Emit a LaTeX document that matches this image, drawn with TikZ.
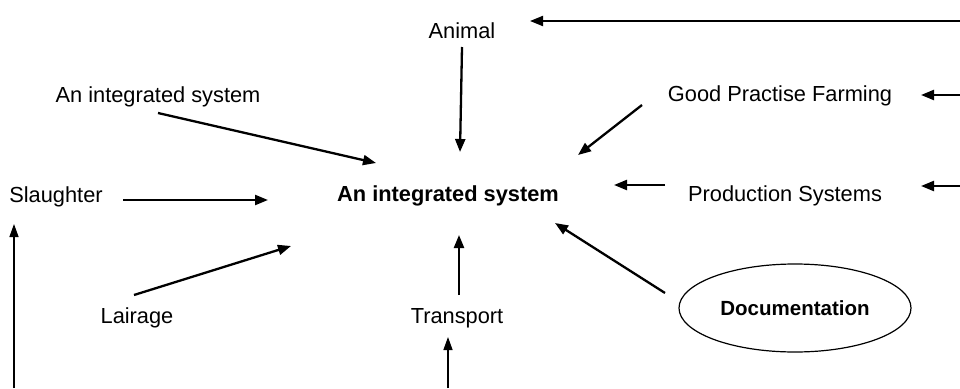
\documentclass[tikz,border=0pt]{standalone}
\usepackage{fontspec}
\setmainfont{Liberation Sans}
\usetikzlibrary{arrows.meta,shapes.geometric}
\begin{document}
\begin{tikzpicture}[x=1pt,y=-1pt,
  lbl/.style={font=\fontsize{21.8}{26}\selectfont, inner sep=0pt, anchor=center},
  bold/.style={lbl, font=\fontsize{21.8}{26}\selectfont\bfseries},
  arr/.style={line width=2.3pt, -{Triangle[length=13pt,width=10pt]}},
  thin/.style={line width=1.4pt, -{Triangle[length=13pt,width=9pt]}}]
\useasboundingbox (0,0) rectangle (960,388);
% nodes
\node[lbl] (animal) at (462,31) {Animal};
\node[lbl] (integ) at (158,97) {An integrated system};
\node[lbl] (gpf) at (780,96) {Good Practise Farming};
\node[lbl] (slaughter) at (56,197) {Slaughter};
\node[bold] (center) at (448,196) {An integrated system};
\node[lbl] (prod) at (785,196) {Production Systems};
\node[lbl] (lairage) at (137,318) {Lairage};
\node[lbl] (transport) at (457,318) {Transport};
\node[draw, line width=1.2pt, ellipse, minimum width=232pt, minimum height=88pt,
      font=\fontsize{20.5}{24}\selectfont\bfseries] (doc) at (795,308) {Documentation};
% free ends
\coordinate (topR) at (960,21);
\coordinate (topL) at (530,21);
\coordinate (gpfR) at (960,95);
\coordinate (gpfT) at (921,95);
\coordinate (prodR) at (960,186);
\coordinate (prodT) at (921,186);
\coordinate (leftB) at (14,388);
\coordinate (leftT) at (14,224);
\coordinate (botB) at (448,388);
\coordinate (botT) at (448,337);
\coordinate (aS) at (462,47);  \coordinate (aE) at (460,152);
\coordinate (iS) at (158,113); \coordinate (iE) at (376,163);
\coordinate (gS) at (642,105); \coordinate (gE) at (578,155);
\coordinate (sS) at (123,200); \coordinate (sE) at (268,200);
\coordinate (pS) at (665,185); \coordinate (pE) at (614,185);
\coordinate (lS) at (134,295); \coordinate (lE) at (291,246);
\coordinate (tS) at (459,295); \coordinate (tE) at (459,235);
\coordinate (dS) at (665,293); \coordinate (dE) at (555,223);
% connectors
\draw[line width=2pt, -{Triangle[length=13pt,width=10pt]}] (topR) -- (topL);
\draw[arr] (gpfR) -- (gpfT);
\draw[arr] (prodR) -- (prodT);
\draw[thin] (leftB) -- (leftT);
\draw[thin] (botB) -- (botT);
\draw[arr] (aS) -- (aE);
\draw[arr] (iS) -- (iE);
\draw[arr] (gS) -- (gE);
\draw[arr] (sS) -- (sE);
\draw[arr] (pS) -- (pE);
\draw[arr] (lS) -- (lE);
\draw[arr] (tS) -- (tE);
\draw[arr] (dS) -- (dE);
\end{tikzpicture}
\end{document}
